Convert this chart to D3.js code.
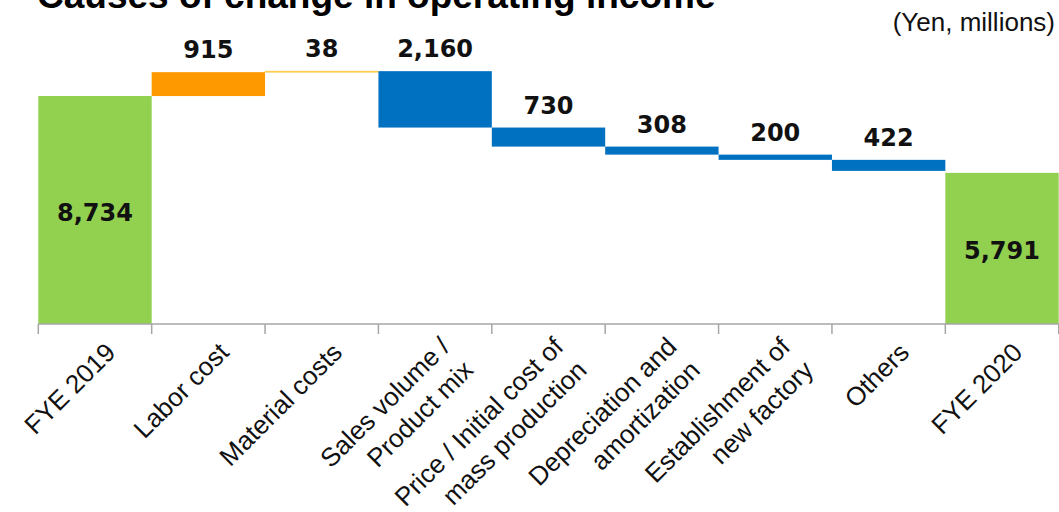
<!DOCTYPE html>
<html><head><meta charset="utf-8">
<script src="https://cdn.jsdelivr.net/npm/d3@7"></script>
<style>body{margin:0;background:#fff;} svg{display:block}</style>
</head><body>
<svg id="chart" width="1059" height="512"></svg>
<script>
// ---- data ----
const categories = ["FYE 2019", "Labor cost", "Material costs", "Sales volume /\nProduct mix",
  "Price / Initial cost of\nmass production", "Depreciation and\namortization",
  "Establishment of\nnew factory", "Others", "FYE 2020"];
const changes = [8734, 915, 38, -2160, -730, -308, -200, -422, 5791];
const kinds = ["total", "up", "up", "down", "down", "down", "down", "down", "total"];
const titleText = "Causes of change in operating income";
const unitText = "(Yen, millions)";

// ---- style ----
const colorByCategory = {
  "FYE 2019": "#92D050", "FYE 2020": "#92D050",
  "Labor cost": "#FF9900", "Material costs": "#FFC940"
};
const downColor = "#0070C0";
const axisY = 324;

// ---- waterfall steps ----
let running = 0;
const steps = categories.map((c, i) => {
  let a, b;
  if (kinds[i] === "total") { a = 0; b = changes[i]; }
  else { a = running; b = running + changes[i]; }
  running = b;
  return { c, v: changes[i], kind: kinds[i], lo: Math.min(a, b), hi: Math.max(a, b) };
});

const svg = d3.select("#chart");
const x = d3.scaleBand().domain(categories).range([38.3, 1058.7]).padding(0);
const y = d3.scaleLinear().domain([0, 10000]).range([axisY, axisY - 261]);
const fmt = d3.format(",");

// title & unit
svg.append("text").attr("x", 37).attr("y", 8)
  .attr("font-family", "Liberation Sans, Arial, sans-serif").attr("font-weight", "bold")
  .attr("font-size", 37).attr("fill", "#000").text(titleText);
svg.append("text").attr("x", 1055).attr("y", 31).attr("text-anchor", "end")
  .attr("font-family", "Liberation Sans, Arial, sans-serif")
  .attr("font-size", 26).attr("fill", "#111").text(unitText);

// bars
svg.append("g").selectAll("rect").data(steps).join("rect")
  .attr("x", d => x(d.c))
  .attr("width", x.bandwidth())
  .attr("y", d => y(d.hi))
  .attr("height", d => Math.max(1, y(d.lo) - y(d.hi)))
  .attr("fill", d => colorByCategory[d.c] || downColor)
  .attr("stroke", d => (y(d.lo) - y(d.hi)) < 2 ? (colorByCategory[d.c] || downColor) : null)
  .attr("stroke-width", 0.6);

// axis line & ticks at band boundaries
const axisG = svg.append("g").attr("stroke", "#A6A6A6").attr("stroke-width", 1.5);
axisG.append("line").attr("x1", x.range()[0]).attr("x2", x.range()[1])
  .attr("y1", axisY).attr("y2", axisY);
const tickXs = categories.map(c => x(c)).concat([x.range()[1]]);
axisG.selectAll("line.tick").data(tickXs).join("line").attr("class", "tick")
  .attr("x1", d => d).attr("x2", d => d).attr("y1", axisY).attr("y2", axisY + 10);

// value labels
const valG = svg.append("g").attr("font-family", "DejaVu Sans, Verdana, sans-serif")
  .attr("font-weight", "bold").attr("font-size", 24).attr("fill", "#111")
  .attr("text-anchor", "middle");
valG.selectAll("text").data(steps).join("text")
  .attr("x", d => x(d.c) + x.bandwidth() / 2)
  .attr("y", d => d.kind === "total" ? (y(d.hi) + y(d.lo)) / 2 + 11 : y(d.hi) - 14)
  .text(d => fmt(Math.abs(d.v)));

// category labels rotated -45, right aligned lines
const lineH = 33;
const labG = svg.append("g").attr("font-family", "Liberation Sans, Arial, sans-serif")
  .attr("font-size", 26).attr("fill", "#111");
categories.forEach(c => {
  const lines = c.split("\n");
  const n = lines.length;
  const g = labG.append("g")
    .attr("transform", `translate(${x(c) + x.bandwidth() / 2 + 22},${axisY + 30}) rotate(-45)`);
  const t = g.append("text").attr("text-anchor", "end");
  lines.forEach((ln, i) => {
    t.append("tspan").attr("x", 0).attr("y", i * lineH - (n - 1) * 8).text(ln);
  });
});
</script>
</body></html>
